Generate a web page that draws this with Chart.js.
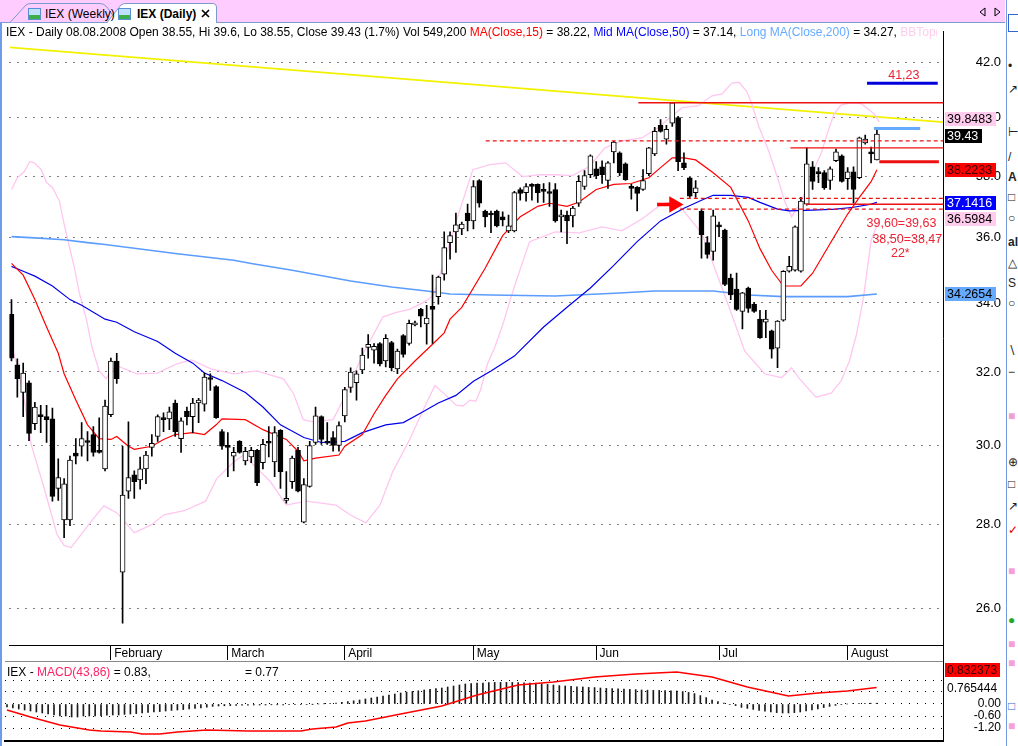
<!DOCTYPE html>
<html>
<head>
<meta charset="utf-8">
<title>IEX Daily</title>
<script src="https://cdn.jsdelivr.net/npm/chart.js@4.4.1/dist/chart.umd.min.js"></script>
<style>
  html, body { margin:0; padding:0; background:#fff; width:1018px; height:746px; overflow:hidden; font-family:"Liberation Sans", Arial, sans-serif; }
  #mainWrap { position:absolute; left:0; top:22px; width:1005px; height:640px; }
  #macdWrap { position:absolute; left:0; top:662px; width:1005px; height:84px; }
  #hdr { position:absolute; left:6px; top:25px; width:931px; height:15px; line-height:15px; font-size:12px; white-space:nowrap; overflow:hidden; color:#000; }
  #mhdr { position:absolute; left:7px; top:665px; height:14px; line-height:14px; font-size:12px; white-space:nowrap; color:#000; }
  .ln { position:absolute; background:#000; }
  #strip { position:absolute; left:1005px; top:0; width:13px; height:746px; background:#fff; overflow:hidden; }
  #strip div { position:absolute; left:3px; font-size:12px; line-height:12px; color:#222; }
</style>
</head>
<body>
<svg width="1005" height="23" style="position:absolute;left:0;top:0">
  <rect x="0" y="0" width="1005" height="22" fill="#ffccff"/>
  <line x1="0" y1="22.5" x2="1005" y2="22.5" stroke="#7b9ad0"/>
  <path d="M10,22.5 L26,5 Q28,3.5 31,3.5 L100,3.5 Q104,3.5 107,7 L116,20" fill="#ffccff" stroke="#7b9ad0"/>
  <path d="M107,22.5 L121,5 Q123,3.5 126,3.5 L213,3.5 Q216.5,3.5 216.5,7 L216.5,22.5" fill="#ffffff" stroke="#7b9ad0"/>
  <line x1="108" y1="22.5" x2="216" y2="22.5" stroke="#ffffff"/>
  <rect x="28.5" y="8.5" width="12" height="11" fill="#bfe0ff" stroke="#5a8fd0"/>
  <rect x="29" y="15" width="11" height="4" fill="#3cae4a"/>
  <rect x="118.5" y="8.5" width="12" height="11" fill="#bfe0ff" stroke="#5a8fd0"/>
  <rect x="119" y="15" width="11" height="4" fill="#3cae4a"/>
  <text x="45" y="18" font-size="12" font-family="Liberation Sans, Arial" fill="#000">IEX (Weekly)</text>
  <text x="137" y="18" font-size="12" font-weight="bold" font-family="Liberation Sans, Arial" fill="#000">IEX (Daily)</text>
  <path d="M202,10 L209,17 M209,10 L202,17" stroke="#000" stroke-width="1.6"/>
  <path d="M985,8 L980,12 L985,16 Z" fill="none" stroke="#000"/>
  <path d="M995,8 L1000,12 L995,16 Z" fill="none" stroke="#000"/>
</svg>

<div id="mainWrap"><canvas id="main"></canvas></div>
<div id="macdWrap"><canvas id="macd"></canvas></div>

<div id="hdr">IEX - Daily 08.08.2008 Open 38.55, Hi 39.6, Lo 38.55, Close 39.43 (1.7%) Vol 549,200 <span style="color:#ff0000">MA(Close,15)</span> = 38.22, <span style="color:#0000ff">Mid MA(Close,50)</span> = 37.14, <span style="color:#66aaff">Long MA(Close,200)</span> = 34.27, <span style="color:#ffccee">BBTop(Close,20,2) = 39.85</span></div>
<div id="mhdr">IEX - <span style="color:#ff2266">MACD(43,86)</span> = 0.83,<span style="position:absolute;left:238px;top:0">= 0.77</span></div>

<div class="ln" style="left:0;top:22px;width:2px;height:724px;background:#6f9be8"></div>
<div class="ln" style="left:943px;top:645px;width:1px;height:18px"></div>
<div class="ln" style="left:5px;top:661px;width:938px;height:1px;background:#888"></div>

<div id="strip">
  <div style="left:1px;top:0;width:1px;height:746px;background:#7799dd"></div>
  <div style="top:14px;left:3px;width:10px;height:16px;border:1px solid #3366cc;background:#fff"></div>
  <div style="top:60px">&#8226;</div>
  <div style="top:83px">&#8599;</div>
  <div style="top:126px">&#8866;</div>
  <div style="top:151px">/</div>
  <div style="top:171px;font-weight:bold">A</div>
  <div style="top:191px">&#9633;</div>
  <div style="top:212px">&#9675;</div>
  <div style="top:236px;font-weight:bold">al</div>
  <div style="top:257px">&#9651;</div>
  <div style="top:277px">S</div>
  <div style="top:297px">&#9675;</div>
  <div style="top:344px">&#8726;</div>
  <div style="top:366px">&#8722;</div>
  <div style="top:410px;color:#f0a0d0">&#9632;</div>
  <div style="top:456px">&#8853;</div>
  <div style="top:478px">&#9633;</div>
  <div style="top:500px">&#8599;</div>
  <div style="top:524px;color:#d00">&#10003;</div>
  <div style="top:565px;color:#f5a0dd">&#9632;</div>
  <div style="top:614px;color:#2a2">&#9679;</div>
  <div style="top:638px;color:#f5a0dd">&#9632;</div>
  <div style="top:657px;color:#f5a0dd">&#9632;</div>
  <div style="top:700px;color:#36c">&#9633;</div>
  <div style="top:720px;color:#f5a0dd">&#9632;</div>
</div>

<script>
// ---------------- DATA ----------------
const monthNames = ['February', 'March', 'April', 'May', 'Jun', 'Jul', 'August'];
const monthStart = [17, 37, 57, 79, 100, 121, 143];
const priceTicks = [26, 28, 30, 32, 34, 36, 38, 40, 42];

const opens = [33.66,32.20,31.43,31.70,30.58,30.82,30.77,30.71,28.89,28.10,28.10,29.80,29.98,30.13,30.29,29.87,29.39,30.82,32.31,26.84,
28.82,29.24,29.11,29.39,29.95,30.24,30.74,30.71,31.14,30.18,30.92,30.77,31.14,31.11,31.81,31.59,30.37,30.00,29.72,30.11,
29.60,29.70,29.87,29.55,30.11,29.57,30.40,28.59,29.06,29.87,28.05,28.94,30.08,30.77,30.11,30.21,30.00,30.79,31.57,31.70,
32.06,32.70,32.62,32.81,32.31,32.84,32.09,33.04,32.81,33.35,33.81,33.38,33.90,34.19,34.87,35.85,36.19,36.28,36.79,36.54,
37.86,36.86,36.79,36.86,36.67,36.22,36.22,37.56,37.46,37.73,37.73,37.56,37.46,37.56,36.67,36.73,36.70,37.11,37.66,38.05,
38.25,38.32,37.86,38.82,38.79,38.42,37.66,37.63,37.56,38.09,38.75,39.74,39.26,39.81,40.01,38.45,37.95,37.46,36.86,35.85,
35.57,36.38,36.25,34.75,34.42,33.75,34.45,33.96,33.52,33.43,33.18,32.68,33.49,34.96,34.99,34.96,37.08,38.32,38.12,38.12,
37.86,38.52,38.69,37.92,38.15,37.95,39.13,38.82,38.55];
const highs = [34.10,32.37,32.25,31.75,31.16,31.08,31.08,31.00,29.65,29.14,29.72,30.18,30.61,30.37,30.50,30.74,31.22,32.39,32.53,29.98,
30.63,29.34,29.70,29.85,30.29,30.82,30.87,31.03,31.22,30.74,31.03,31.27,31.27,31.97,31.95,31.62,30.42,30.34,29.95,30.13,
29.95,29.95,29.90,30.16,30.50,30.50,30.42,29.32,29.72,29.95,29.14,30.11,31.03,30.79,30.61,30.37,30.63,31.57,32.12,32.03,
32.68,33.07,32.81,32.84,33.07,32.87,32.65,33.07,33.49,33.46,33.84,33.93,34.84,34.81,36.19,36.19,36.79,36.50,37.08,37.86,
37.89,36.89,36.86,36.89,36.83,36.73,37.50,37.62,37.76,37.76,37.75,37.76,37.79,37.76,36.89,36.86,37.01,38.02,38.19,38.72,
38.49,38.52,38.49,39.18,38.82,38.45,37.73,37.66,38.22,38.98,39.67,39.94,39.74,40.55,40.05,38.79,37.97,37.86,36.92,36.04,
36.89,36.50,36.28,34.87,34.90,34.32,34.48,34.01,33.78,33.78,33.20,33.48,34.98,35.42,36.38,37.30,38.96,38.49,38.29,38.19,
38.32,38.92,38.72,38.29,38.32,39.33,39.40,38.99,39.60];
const lows = [32.31,31.30,30.77,30.13,30.42,30.34,30.08,28.57,28.59,27.67,27.96,29.52,29.72,29.60,29.72,29.80,29.34,30.77,31.68,25.67,
28.64,28.64,28.87,29.01,29.72,30.11,30.37,30.42,30.24,29.82,30.55,30.34,30.61,30.92,31.49,30.72,29.90,29.19,29.34,29.80,
29.49,29.55,28.96,29.39,29.70,29.19,28.89,28.52,28.89,28.80,28.03,28.92,30.03,30.03,30.03,29.85,29.85,30.63,31.43,31.22,
31.95,32.39,32.25,32.17,32.14,32.03,31.95,32.42,32.76,33.32,33.29,32.79,32.81,33.96,34.69,35.33,35.54,36.10,36.22,36.28,
36.98,36.35,36.16,36.35,36.38,36.16,36.19,37.21,37.18,37.21,37.14,37.14,37.01,36.50,36.19,35.82,36.35,37.01,37.56,37.95,
37.92,37.76,37.60,38.45,38.02,37.86,37.24,36.86,37.53,38.02,38.69,39.50,39.09,39.70,38.19,38.22,37.30,37.30,35.36,35.36,
35.30,36.04,34.52,34.10,33.78,33.23,33.72,33.72,32.96,32.98,32.39,32.12,33.46,34.93,34.96,34.93,37.05,37.56,37.79,37.56,
37.56,38.49,37.80,37.56,37.11,37.92,39.09,38.45,38.55];
const closes = [32.39,31.81,31.97,30.32,31.03,30.77,30.69,28.69,29.17,29.01,29.62,29.72,30.18,30.08,29.82,29.82,31.06,32.31,31.81,28.72,
29.17,29.06,29.39,29.75,30.06,30.77,30.69,30.90,30.37,30.66,30.77,31.14,31.22,31.86,31.79,30.74,29.98,29.95,29.82,29.82,
29.85,29.87,29.04,30.03,30.06,30.34,29.32,28.64,29.67,28.82,28.99,30.00,30.79,30.16,30.06,30.00,30.53,31.51,32.00,31.95,
32.48,32.79,32.73,32.23,32.96,32.12,32.59,32.50,33.40,33.38,33.61,33.55,33.81,34.78,35.69,36.07,36.41,36.44,36.54,37.66,
37.11,36.67,36.73,36.38,36.57,36.38,37.46,37.43,37.66,37.66,37.46,37.50,37.43,36.54,36.73,36.54,36.95,37.83,38.02,38.69,
38.02,38.05,38.45,39.16,38.12,37.89,37.60,37.43,37.86,38.96,39.53,39.53,39.60,40.53,38.49,38.29,37.34,37.62,36.10,35.48,
36.70,36.35,34.56,34.24,33.81,34.30,33.84,33.75,32.98,33.52,32.65,33.46,34.96,35.11,36.35,37.18,38.42,37.83,38.09,37.62,
38.25,38.82,37.83,38.15,37.56,39.30,39.26,38.75,39.43];

// moving averages and bands, read as [candle position, price]
const ma15 = [[0,35.20],[2,34.84],[4,34.10],[6,33.29],[8,32.53],[9,31.95],[11,31.22],[13,30.55],[15,30.18],[17,30.16],[18,30.24],[20,29.98],[21,29.90],[24,29.98],[26,30.16],[28,30.29],[31,30.34],[33,30.29],[35,30.55],[36,30.71],[40,30.69],[43,30.42],[47,30.16],[49,29.85],[50,29.60],[52,29.67],[56,29.75],[57,29.98],[60,30.29],[62,30.85],[64,31.35],[66,31.81],[69,32.31],[72,32.79],[74,33.12],[75,33.52],[77,33.87],[81,35.05],[84,36.07],[87,36.67],[90,37.01],[92,37.11],[95,37.01],[97,37.14],[100,37.56],[103,37.73],[106,37.76],[109,37.95],[111,38.29],[113,38.62],[115,38.62],[117,38.55],[120,38.12],[123,37.63],[126,36.54],[128,35.66],[130,34.99],[132,34.51],[135,34.51],[137,34.90],[140,35.82],[143,36.76],[145,37.30],[147,37.82],[148,38.22]];
const ma50 = [[0,35.11],[2,34.96],[4,34.81],[7,34.51],[10,34.10],[12,33.93],[16,33.52],[18,33.43],[21,33.15],[25,32.87],[28,32.53],[31,32.25],[33,31.97],[36,31.76],[40,31.43],[43,31.03],[46,30.55],[50,30.21],[53,30.08],[57,30.11],[60,30.34],[64,30.55],[67,30.61],[70,30.87],[73,31.14],[76,31.35],[79,31.74],[82,32.03],[86,32.45],[91,33.29],[95,33.87],[99,34.45],[103,35.14],[107,35.88],[111,36.54],[115,36.95],[118,37.21],[120,37.37],[123,37.37],[126,37.30],[128,37.14],[131,36.92],[133,36.86],[137,36.89],[141,36.92],[144,36.98],[147,37.08],[148,37.14]];
const ma200 = [[0,36.04],[4,36.00],[9,35.94],[13,35.85],[16,35.79],[28,35.51],[38,35.30],[41,35.20],[48,34.99],[58,34.66],[65,34.48],[71,34.36],[75,34.27],[82,34.24],[93,34.21],[104,34.30],[110,34.36],[116,34.36],[120,34.36],[126,34.24],[132,34.19],[137,34.19],[143,34.19],[148,34.27]];
const bbUpper = [[0,37.56],[1,37.95],[2.2,38.16],[3.1,38.49],[3.9,38.45],[5.1,38.22],[6,37.79],[7,37.63],[8.2,37.18],[9,36.44],[9.9,35.72],[10.7,35.11],[11.6,34.30],[12.8,33.52],[13.8,32.68],[15,32.03],[16.2,31.81],[17,32.03],[18.1,32.17],[21.5,31.95],[24.9,31.97],[28.3,32.23],[30.8,32.34],[34.1,32.09],[38,31.95],[41.9,32.03],[46.5,31.81],[48.2,31.41],[49.9,30.69],[51.6,30.63],[55,30.69],[56.7,31.22],[60.1,32.51],[63.5,33.58],[65.8,33.72],[68.1,33.81],[70.4,34.01],[72.1,34.21],[73.9,35.20],[76,36.50],[78.9,38.22],[81.8,38.39],[84.5,38.45],[87.4,37.99],[90.3,38.05],[93,38.05],[95.9,38.02],[98.8,38.32],[101.5,38.96],[104.4,39.20],[107.8,39.30],[110.7,39.67],[112.4,39.98],[114.7,40.36],[117.5,40.43],[119.8,40.78],[121.5,40.85],[123.2,41.24],[124.4,41.27],[125.7,40.95],[126.6,40.50],[127.8,39.70],[129.5,38.85],[131.2,37.83],[132.2,37.18],[133.4,36.67],[135.1,37.18],[136.8,38.05],[138.5,38.79],[139.7,39.57],[140.7,40.15],[141.9,40.46],[143.6,40.53],[145.3,40.50],[147.5,40.15],[148.4,39.85]];
const bbLower = [[0,32.73],[1,32.17],[2.2,31.22],[3.4,30.01],[5.6,28.89],[7.8,27.74],[9,27.48],[10.2,27.43],[11.9,27.74],[13.8,28.10],[15.8,28.45],[18.1,28.27],[21,27.79],[23.9,27.98],[26.1,28.23],[29.5,28.33],[31.7,28.47],[33.2,28.57],[35.1,29.14],[38,29.57],[39.7,29.75],[44.3,29.06],[47,28.47],[50.4,28.57],[55.5,28.47],[57.9,28.23],[60.6,28.03],[63,28.47],[65.2,29.32],[68.1,30.16],[70.4,30.95],[72.4,31.62],[74.3,31.35],[76,31.08],[77.2,31.06],[78.4,31.22],[79.4,31.19],[80.2,31.49],[81.4,32.23],[82.6,32.68],[84,33.35],[85.3,34.10],[86.2,34.60],[88.6,35.88],[93,36.19],[97.1,36.16],[101,36.35],[104.4,36.22],[107.8,36.60],[111.2,37.08],[113.5,37.18],[114.7,36.92],[118.1,36.13],[121,34.69],[123.2,33.64],[125.4,32.59],[128.8,31.95],[131.7,31.84],[133.4,32.12],[134.6,31.84],[137.6,31.30],[140.2,31.41],[141.9,31.76],[143.3,32.31],[144.5,33.07],[145.7,34.16],[147,35.91],[148.4,36.60]];

// MACD panel
const macdLine = [[0,-0.30],[4,-0.65],[9,-1.05],[14,-1.30],[16,-1.35],[21,-1.40],[23,-1.50],[26,-1.50],[29,-1.40],[34,-1.30],[41,-1.35],[50,-1.35],[52,-1.25],[56,-1.15],[58,-0.95],[61,-0.85],[67,-0.50],[74,-0.10],[80,0.45],[87,0.95],[93,1.10],[100,1.35],[107,1.50],[114,1.60],[120,1.35],[126,0.85],[133,0.40],[138,0.55],[143,0.65],[148,0.83]];
const macdHist = [-0.15,-0.2,-0.25,-0.3,-0.35,-0.4,
-0.45,-0.5,-0.55,-0.6,-0.6,-0.65,-0.65,
-0.6,-0.6,-0.6,-0.58,-0.56,-0.55,-0.55,-0.52,-0.5,-0.48,
-0.45,-0.42,-0.4,-0.38,-0.35,-0.32,
-0.3,-0.28,-0.25,-0.22,-0.2,-0.16,
-0.12,-0.1,-0.09,-0.08,-0.07,-0.06,-0.06,-0.05,-0.05,-0.05,-0.04,-0.04,-0.04,-0.03,-0.03,-0.02,
-0.02,-0.01,0,0.01,0.02,0.05,0.08,
0.12,0.16,0.2,0.25,0.3,0.35,0.4,0.45,0.5,
0.55,0.6,0.63,0.66,0.7,0.73,0.77,0.8,0.85,
0.9,0.95,1.0,1.02,1.05,1.05,1.07,1.08,1.08,
1.08,1.08,1.07,1.06,1.05,1.04,1.0,0.98,0.95,0.92,0.9,
0.88,0.86,0.85,0.83,0.82,0.8,0.78,0.77,0.76,0.75,0.73,0.72,0.7,0.69,0.68,
0.68,0.67,0.66,0.65,0.62,0.58,0.52,0.42,
0.32,0.2,0.12,0.05,-0.02,-0.08,
-0.17,-0.22,-0.27,-0.32,-0.36,-0.4,-0.43,-0.45,
-0.45,-0.43,-0.4,-0.35,-0.3,-0.24,-0.18,-0.12,
-0.07,-0.03,0.0,0.02,0.03,0.03,0.04,0.04];
const macdTicks = [-1.2, -0.6, 0, 0.6, 1.2];

// drawn support / target levels: [fromPos, toPos, price]
const trendLine = [[-0.34, 42.55], [159.3, 39.85]];
const levelSolidHigh = [107.2, 159.3, 40.53];
const levelDash1 = [81.1, 159.3, 39.20];
const levelSolid2 = [133.2, 159.3, 38.96];
const levelStop = [148.4, 158.6, 38.49];
const levelTarget = [146.3, 158.4, 41.23];
const levelEntry = [147.5, 155.4, 39.63];
const levelDash2 = [114.3, 159.3, 37.27];
const levelSolid3 = [135.9, 159.3, 37.08];
const levelDash3 = [114.3, 159.3, 36.92];
const arrowAt = [110.4, 113.3, 37.07];

// ---------------- CHART ----------------
const FAM = '"Liberation Sans", Arial, Helvetica, sans-serif';
Chart.defaults.font.family = FAM;
Chart.defaults.color = '#000';
const XMIN = -0.34, XMAX = 159.3;
const pts = a => a.map(([x, y]) => ({x, y}));
const seg = (l) => [{x: l[0], y: l[2]}, {x: l[1], y: l[2]}];
const lineDs = (data, color, width, order, dash) => ({
  type: 'line', data, borderColor: color, borderWidth: width, pointRadius: 0,
  tension: 0, fill: false, order, borderDash: dash || [], spanGaps: true
});
const up = i => closes[i] >= opens[i];
const idx = opens.map((_, i) => i);

const priceBoxes = [
  {v: 39.8483, text: '39.8483', bg: '#ffccee', fg: '#000', dy: -3},
  {v: 39.43, text: '39.43', bg: '#000000', fg: '#fff', dy: 2},
  {v: 38.2233, text: '38.2233', bg: '#ff0000', fg: '#3a0000', dy: 0},
  {v: 37.1416, text: '37.1416', bg: '#0000ff', fg: '#fff', dy: 1},
  {v: 36.5984, text: '36.5984', bg: '#ffccee', fg: '#000', dy: 0},
  {v: 34.2654, text: '34.2654', bg: '#66aaff', fg: '#000', dy: 0}
];
const notes = [
  {x: 152.6, v: 41.50, text: '41,23'},
  {x: 152.2, v: 36.44, text: '39,60=39,63'},
  {x: 153.2, v: 35.94, text: '38,50=38,47'},
  {x: 152.0, v: 35.52, text: '22*'}
];

const overlayPlugin = {
  id: 'overlay',
  afterDatasetsDraw(chart) {
    const {ctx, scales: {x, y}} = chart;
    ctx.save();
    ctx.font = '12.5px ' + FAM;
    ctx.fillStyle = '#ee2233';
    ctx.textAlign = 'center';
    ctx.textBaseline = 'middle';
    notes.forEach(n => ctx.fillText(n.text, x.getPixelForValue(n.x), y.getPixelForValue(n.v)));
    ctx.restore();
  },
  afterDraw(chart) {
    const {ctx, scales: {y}} = chart;
    ctx.save();
    ctx.font = '12.5px ' + FAM;
    ctx.textAlign = 'left';
    ctx.textBaseline = 'middle';
    priceBoxes.forEach(b => {
      const py = Math.round(y.getPixelForValue(b.v) + b.dy);
      const w = Math.ceil(ctx.measureText(b.text).width) + 5;
      ctx.fillStyle = b.bg;
      ctx.fillRect(945, py - 7, w, 14);
      ctx.fillStyle = b.fg;
      ctx.fillText(b.text, 947, py + 0.5);
    });
    ctx.restore();
  }
};

new Chart(document.getElementById('main'), {
  type: 'bar',
  data: {
    datasets: [
      {label: 'body', data: idx.map(i => ({x: i, y: [Math.min(opens[i], closes[i]), Math.max(opens[i], closes[i])]})),
       backgroundColor: c => up(c.dataIndex) ? '#ffffff' : '#000000', borderColor: '#000', borderWidth: 1,
       borderSkipped: false, barThickness: 5, minBarLength: 2, grouped: false, order: 1},
      {label: 'wick', data: idx.map(i => ({x: i, y: [lows[i], highs[i]]})),
       backgroundColor: '#000', borderWidth: 0, barThickness: 1, grouped: false, order: 2},
      lineDs(pts(ma15), '#ff0000', 1.2, 3),
      lineDs(pts(ma50), '#0000ee', 1.2, 3),
      lineDs(pts(ma200), '#5b9cff', 1.6, 3),
      lineDs(pts(bbUpper), '#ffc6f0', 1.3, 4),
      lineDs(pts(bbLower), '#ffc6f0', 1.3, 4),
      lineDs(pts(trendLine), '#f2f200', 1.8, 5),
      lineDs(seg(levelSolidHigh), '#ee1111', 1.5, 0),
      lineDs(seg(levelDash1), '#ee1111', 1.3, 0, [4, 3]),
      lineDs(seg(levelSolid2), '#ee1111', 1.3, 0),
      lineDs(seg(levelStop), '#ee1111', 3, 0),
      lineDs(seg(levelTarget), '#0000dd', 3, 0),
      lineDs(seg(levelEntry), '#66aaff', 3, 0),
      lineDs(seg(levelDash2), '#ee1111', 1.3, 0, [4, 3]),
      lineDs(seg(levelSolid3), '#ee1111', 1.5, 0),
      lineDs(seg(levelDash3), '#ee1111', 1.3, 0, [4, 3]),
      Object.assign(lineDs(seg(arrowAt), '#ff0000', 3.5, 0), {
        pointRadius: [0, 6], pointStyle: 'triangle', pointRotation: 90,
        pointBackgroundColor: '#ff0000', pointBorderColor: '#ff0000'
      })
    ]
  },
  options: {
    responsive: true, maintainAspectRatio: false, animation: false,
    layout: {padding: {left: 5, top: 3, right: 4, bottom: 0}},
    plugins: {legend: {display: false}, tooltip: {enabled: false}},
    scales: {
      x: {
        type: 'linear', min: XMIN, max: XMAX, offset: false,
        afterBuildTicks: s => { s.ticks = monthStart.map(v => ({value: v})); },
        afterFit: s => { s.height = 17; s.paddingLeft = 0; s.paddingRight = 0; },
        ticks: {callback: (v, i) => ' ' + monthNames[i], align: 'start', padding: -14,
                autoSkip: false, maxRotation: 0, minRotation: 0, font: {size: 12}, color: '#000'},
        grid: {offset: false, drawOnChartArea: false, drawTicks: true, tickLength: 15, color: '#000', tickColor: '#000'},
        border: {display: true, color: '#000', width: 1}
      },
      y: {
        type: 'logarithmic', position: 'right', min: 25.18, max: 43.15,
        afterBuildTicks: s => { s.ticks = priceTicks.map(v => ({value: v})); },
        afterFit: s => { s.width = 58; s.paddingTop = 0; s.paddingBottom = 0; },
        ticks: {callback: v => Number(v).toFixed(1), crossAlign: 'far', padding: 0, autoSkip: false, font: {size: 13}, color: '#000'},
        grid: {color: '#000', lineWidth: 1, drawTicks: false},
        border: {display: true, color: '#000', width: 1, dash: [1, 7]}
      }
    }
  },
  plugins: [overlayPlugin]
});

const macdBoxes = [
  {v: 1.70, text: '0.832373', bg: '#ff0000', fg: '#3a0000'},
  {v: 0.80, text: '0.765444', bg: '#ffffff', fg: '#000'}
];
const macdPlugin = {
  id: 'macdBoxes',
  afterDraw(chart) {
    const {ctx, scales: {y}} = chart;
    ctx.save();
    ctx.font = '12px ' + FAM;
    ctx.textAlign = 'left';
    ctx.textBaseline = 'middle';
    macdBoxes.forEach(b => {
      const py = Math.round(y.getPixelForValue(b.v));
      const w = Math.ceil(ctx.measureText(b.text).width) + 4;
      ctx.fillStyle = b.bg;
      ctx.fillRect(945, py - 7, w, 14);
      ctx.fillStyle = b.fg;
      ctx.fillText(b.text, 947, py + 0.5);
    });
    ctx.restore();
  }
};

new Chart(document.getElementById('macd'), {
  type: 'bar',
  data: {
    datasets: [
      {data: idx.map(i => ({x: i, y: macdHist[i]})), backgroundColor: '#1a1a1a', borderWidth: 0,
       barThickness: 1, grouped: false, order: 2},
      lineDs(pts(macdLine), '#ff0000', 1.5, 1)
    ]
  },
  options: {
    responsive: true, maintainAspectRatio: false, animation: false,
    layout: {padding: {left: 5, top: 1, right: 4, bottom: 5}},
    plugins: {legend: {display: false}, tooltip: {enabled: false}},
    scales: {
      x: {
        type: 'linear', min: XMIN, max: XMAX, offset: false,
        ticks: {display: false}, grid: {display: false, offset: false},
        afterFit: s => { s.height = 0; s.paddingLeft = 0; s.paddingRight = 0; },
        border: {display: true, color: '#000', width: 2}
      },
      y: {
        type: 'linear', position: 'right', min: -1.85, max: 2.05,
        afterBuildTicks: s => { s.ticks = macdTicks.map(v => ({value: v})); },
        afterFit: s => { s.width = 58; s.paddingTop = 0; s.paddingBottom = 0; },
        ticks: {callback: v => (v <= 0 ? Number(v).toFixed(2) : ''), crossAlign: 'far', padding: 0,
                autoSkip: false, font: {size: 12}, color: '#000'},
        grid: {color: '#000', lineWidth: 1, drawTicks: false},
        border: {display: true, color: '#000', width: 1, dash: [1, 7]}
      }
    }
  },
  plugins: [macdPlugin]
});
</script>
</body>
</html>
